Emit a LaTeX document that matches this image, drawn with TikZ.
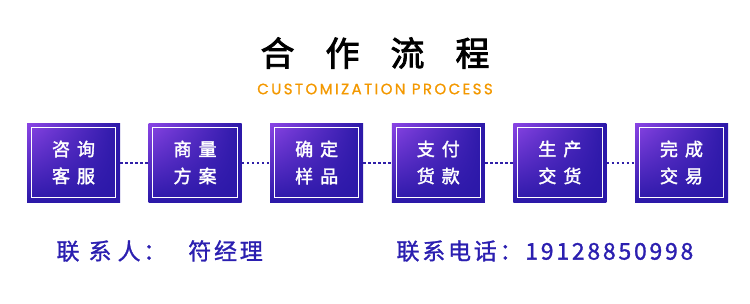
\documentclass[tikz,border=0pt]{standalone}
\usepackage{fontspec}
\usetikzlibrary{shadings}
\setmainfont{Noto Sans CJK SC}
\newfontfamily\cjkfont[FakeBold=2]{Noto Sans CJK SC}
\newfontfamily\titlefont[FakeBold=2.5]{Noto Sans CJK SC}
\newfontfamily\cjkspaced[LetterSpace=12,FakeBold=1.2]{Noto Sans CJK SC}
\newfontfamily\latinspaced[LetterSpace=16,FakeBold=1]{Poppins}
\definecolor{boxtop}{HTML}{8A44E4}
\definecolor{boxdark}{HTML}{2B18A8}
\definecolor{linkblue}{HTML}{3020A8}
\definecolor{textblue}{HTML}{2B1FB0}
\definecolor{procorange}{HTML}{F39800}
\newcommand\gap{\hspace{7pt}}
\tikzset{
  stepbox/.style={minimum width=93pt,minimum height=79pt,inner sep=0pt,
    upper left=boxtop,upper right=boxdark,lower left=boxdark,lower right=boxdark,
    text=white,align=center,font=\cjkfont\fontsize{18}{27}\selectfont},
  frame/.style={draw=white,line width=1pt},
  link/.style={draw=linkblue,line width=2pt,dash pattern=on 2.5pt off 2.5pt},
  contact/.style={anchor=west,text=textblue,font=\cjkspaced\fontsize{23}{26}\selectfont}
}
\begin{document}
\begin{tikzpicture}[x=1pt,y=-1pt]
\useasboundingbox (0,0) rectangle (750,303);
% title
\node[font=\titlefont\fontsize{34}{38}\selectfont] (title) at (375,53) {合\hspace{31pt}作\hspace{31pt}流\hspace{31pt}程};
\node[text=procorange,font=\latinspaced\fontsize{15}{18}\selectfont] (subtitle) at (375,89) {CUSTOMIZATION PROCESS};
% process steps
\node[stepbox] (b1) at (73.5,162.5) {咨\gap 询\\客\gap 服};
\node[stepbox] (b2) at (195.1,162.5) {商\gap 量\\方\gap 案};
\node[stepbox] (b3) at (316.7,162.5) {确\gap 定\\样\gap 品};
\node[stepbox] (b4) at (438.3,162.5) {支\gap 付\\货\gap 款};
\node[stepbox] (b5) at (559.9,162.5) {生\gap 产\\交\gap 货};
\node[stepbox] (b6) at (681.5,162.5) {完\gap 成\\交\gap 易};
\foreach \i in {1,...,6}
  \draw[frame] ([shift={(4.5,4.5)}]b\i.north west) rectangle ([shift={(-4.5,-4.5)}]b\i.south east);
\foreach \i/\j in {1/2,2/3,3/4,4/5,5/6}
  \draw[link] (b\i.east) -- (b\j.west);
% contact line
\node[contact] (person) at (53,251) {联\hspace{9pt}系\hspace{6pt}人：\hspace{22pt}符经理};
\node[contact] (phone) at (393,251) {联系电话：19128850998};
\end{tikzpicture}
\end{document}
